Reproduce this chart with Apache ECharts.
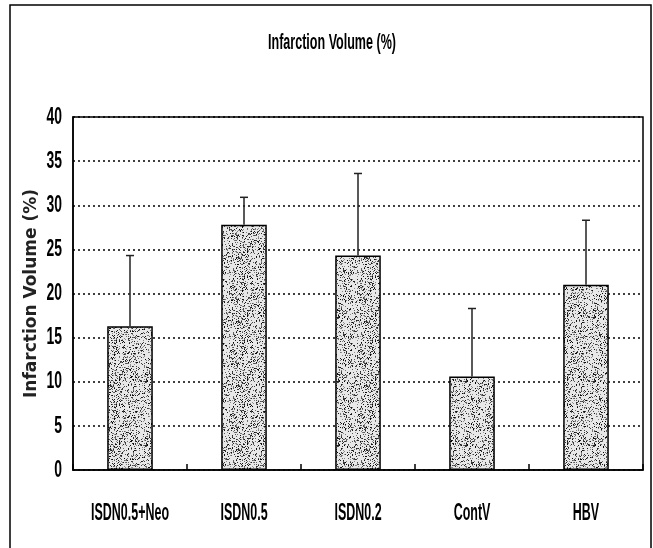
<!DOCTYPE html>
<html>
<head>
<meta charset="utf-8">
<script src="https://cdn.jsdelivr.net/npm/echarts@6/dist/echarts.min.js"></script>
<style>
  html, body { margin: 0; padding: 0; background: #fff; }
  #chart { width: 653px; height: 548px; }
</style>
</head>
<body>
<div id="chart"></div>
<script>
// Infarction volume by treatment group: mean and SD (%)
const categories = ['ISDN0.5+Neo', 'ISDN0.5', 'ISDN0.2', 'ContV', 'HBV'];
const meanValues = [16.3, 27.8, 24.3, 10.6, 21.0];
const sdValues = [8.0, 3.1, 9.3, 7.7, 7.3];
const yTicks = [0, 5, 10, 15, 20, 25, 30, 35, 40];
const chartTitle = 'Infarction Volume (%)';
const yAxisTitle = 'Infarction Volume (%)';

// Condensed look: a sans face squeezed horizontally
const condensedFont = "'Liberation Sans', Arial, sans-serif";

// Stippled grey fill for the bars (a small tiled speckle texture)
function makeStipple() {
  const c = document.createElement('canvas');
  c.width = 64; c.height = 64;
  const ctx = c.getContext('2d');
  ctx.fillStyle = '#e8e8e8';
  ctx.fillRect(0, 0, 64, 64);
  let s = 12345;
  const next = () => { s = (s * 1103515245 + 12345) & 0x7fffffff; return s / 0x7fffffff; };
  for (let i = 0; i < 1200; i++) {
    const x = Math.floor(next() * 64), y = Math.floor(next() * 64);
    const g = Math.floor(next() * 150);
    ctx.fillStyle = 'rgb(' + g + ',' + g + ',' + g + ')';
    ctx.fillRect(x, y, 1, 1);
  }
  return c;
}

const chart = echarts.init(document.getElementById('chart'));

const errorData = categories.map((_, i) => [i, meanValues[i], meanValues[i] + sdValues[i]]);

chart.setOption({
  backgroundColor: '#fff',
  animation: false,
  grid: {
    left: 73, right: 10, top: 117, bottom: 78,
    show: true, borderColor: '#000', borderWidth: 1.5, backgroundColor: 'transparent'
  },
  xAxis: {
    type: 'category',
    data: categories,
    axisLine: { show: true, lineStyle: { color: '#000', width: 1.5 } },
    axisTick: { show: true, interval: 0, inside: true, length: 6, lineStyle: { color: '#000', width: 1.5 } },
    axisLabel: { show: false },
    splitLine: { show: false }
  },
  yAxis: {
    type: 'value',
    min: yTicks[0],
    max: yTicks[yTicks.length - 1],
    interval: yTicks[1] - yTicks[0],
    name: yAxisTitle,
    nameLocation: 'middle',
    nameGap: 33,
    nameTextStyle: { fontFamily: "'DejaVu Sans', sans-serif", fontWeight: 'bold', fontSize: 17, color: '#222' },
    axisLine: { show: true, lineStyle: { color: '#000', width: 1.5 } },
    axisTick: { show: false },
    axisLabel: { show: false },
    splitLine: { show: true, lineStyle: { color: '#000', width: 1.5, type: [2, 3] } }
  },
  series: [
    {
      type: 'bar',
      data: meanValues,
      barWidth: '40%',
      itemStyle: {
        color: { image: makeStipple(), repeat: 'repeat' },
        borderColor: '#000',
        borderWidth: 1.5
      },
      z: 3
    },
    {
      type: 'custom',
      data: errorData,
      encode: { x: 0, y: [1, 2] },
      z: 4,
      renderItem: function (params, api) {
        const i = api.value(0);
        const base = api.coord([i, api.value(1)]);
        const top = api.coord([i, api.value(2)]);
        const cap = 4;
        const style = { stroke: '#222', lineWidth: 1.5 };
        return {
          type: 'group',
          children: [
            { type: 'line', shape: { x1: base[0], y1: base[1], x2: top[0], y2: top[1] }, style: style },
            { type: 'line', shape: { x1: top[0] - cap, y1: top[1], x2: top[0] + cap, y2: top[1] }, style: style }
          ]
        };
      }
    }
  ]
});

// Text in a condensed face, placed from the axes' own scales
function squeezedText(text, x, y, size, align, sx) {
  return {
    type: 'text', x: x, y: y, scaleX: sx, silent: true, z: 10,
    style: {
      text: text, x: 0, y: 0, fill: '#000',
      font: 'bold ' + size + 'px ' + condensedFont,
      textAlign: align, textVerticalAlign: 'middle'
    }
  };
}

const gridRect = chart.getModel().getComponent('grid', 0).coordinateSystem.getRect();
const graphics = [];
categories.forEach((name, i) => {
  const px = chart.convertToPixel({ xAxisIndex: 0 }, i);
  graphics.push(squeezedText(name, px, gridRect.y + gridRect.height + 43, 24, 'center', 0.52));
});
yTicks.forEach((v) => {
  const py = chart.convertToPixel({ yAxisIndex: 0 }, v);
  graphics.push(squeezedText(String(v), gridRect.x - 11, py, 24, 'right', 0.58));
});
graphics.push(squeezedText(chartTitle, 332, 43, 22, 'center', 0.57));
graphics.push({
  type: 'rect', silent: true, z: 0,
  shape: { x: 10, y: 5, width: 641, height: 560 },
  style: { fill: 'none', stroke: '#000', lineWidth: 1.5 }
});
chart.setOption({ graphic: graphics });
</script>
</body>
</html>
